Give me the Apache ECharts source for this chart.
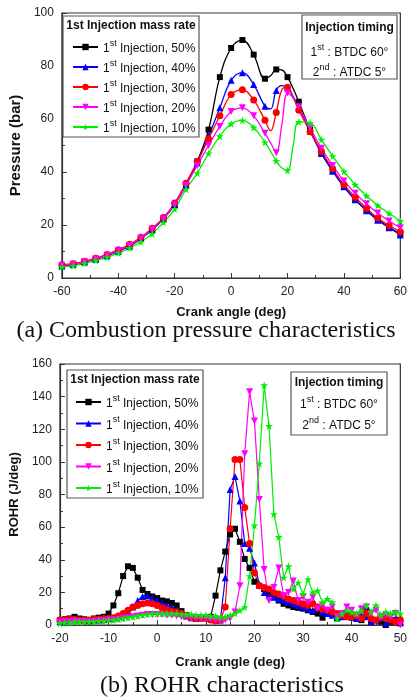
<!DOCTYPE html>
<html>
<head>
<meta charset="utf-8">
<script src="https://cdn.jsdelivr.net/npm/echarts@6/dist/echarts.min.js"></script>
<style>
html, body { margin: 0; padding: 0; background: #fff; }
#main { width: 410px; height: 697px; }
</style>
</head>
<body>
<div id="main"></div>
<script>
var seriesNames = ['1st Injection, 50%', '1st Injection, 40%', '1st Injection, 30%', '1st Injection, 20%', '1st Injection, 10%'];
var colors = ['#000000', '#0000ff', '#ff0000', '#ff00ff', '#00ee00'];

// (a) combustion pressure, bar
var pressureAngle = [-60, -56, -52, -48, -44, -40, -36, -32, -28, -24, -20, -16, -12, -8, -4, 0, 4, 8, 12, 14, 16, 18, 20, 22, 24, 28, 32, 36, 40, 44, 48, 52, 56, 60];
var pressure50 = [4.6, 5.2, 6.1, 7.2, 8.5, 10.3, 12.2, 14.9, 18.3, 22.4, 27.8, 35.3, 44, 56, 75.8, 86.8, 89.8, 84.3, 75.2, 76.3, 78.7, 78.5, 75.8, 71.5, 66.5, 56, 47.2, 40.5, 34.5, 29.6, 25.6, 22, 19.2, 16.5];
var pressure40 = [4.5, 5.1, 6, 7.1, 8.4, 10.1, 12, 14.8, 18.2, 22.3, 27.7, 35, 43.5, 53.5, 64.2, 74.6, 77.5, 73, 64.8, 63.8, 70.8, 72.6, 71.8, 68.5, 64.5, 55.5, 47, 40.3, 34.4, 29.5, 25.4, 21.8, 19, 16.2];
var pressure30 = [5, 5.4, 6.3, 7.5, 8.9, 10.7, 12.7, 15.4, 18.8, 22.8, 28.3, 35.8, 44, 52.5, 61.2, 69.2, 71, 67.2, 59.5, 55.5, 62.5, 71, 72, 68, 63.3, 55.2, 47.8, 41.2, 35.2, 30.5, 26.3, 22.6, 19.8, 17.5];
var pressure20 = [4.8, 5.2, 6.1, 7.3, 8.6, 10.4, 12.3, 15, 18.4, 22.4, 27.7, 35, 42.5, 50, 57.2, 62.8, 64.2, 61.2, 54.6, 51, 47.3, 58, 69.8, 68, 64.6, 56.6, 49, 42.5, 36.6, 32, 28, 24.5, 21.5, 19];
var pressure10 = [4.2, 4.6, 5.5, 6.6, 7.8, 9.4, 11.3, 13.6, 16.7, 21, 26, 33.5, 39.6, 47, 53.5, 58.2, 59.5, 56.8, 51.2, 47.8, 44.2, 41.5, 40.6, 50, 58.9, 58.5, 52.2, 46, 40.2, 35.2, 31, 27.4, 24.4, 21.5];

// (b) rate of heat release, J/deg
var rohrAngle = [-20, -19, -18, -17, -16, -15, -14, -13, -12, -11, -10, -9, -8, -7, -6, -5, -4, -3, -2, -1, 0, 1, 2, 3, 4, 5, 6, 7, 8, 9, 10, 11, 12, 13, 14, 15, 16, 17, 18, 19, 20, 21, 22, 23, 24, 25, 26, 27, 28, 29, 30, 31, 32, 33, 34, 35, 36, 37, 38, 39, 40, 41, 42, 43, 44, 45, 46, 47, 48, 49, 50];
var rohr50 = [3, 3.5, 4, 5, 4, 3.5, 3, 4, 4.5, 5, 7, 12, 19.5, 30, 36, 35, 29, 21.5, 19, 17.5, 16.5, 15, 14.5, 13.5, 12, 8.5, 6, 5, 4.5, 4.5, 4.5, 5, 18, 33.5, 45, 55.5, 59, 51, 40.5, 35, 26.5, 24, 22, 19, 17, 15, 13, 12, 11, 10.5, 10, 9, 8, 7, 4.5, 8, 7, 4, 5, 6, 4.5, 4, 3, 9, 2, 3, 2, 0, 2, 3, 1];
var rohr40 = [2, 2.5, 3, 3.5, 3, 3, 2.5, 3, 3, 3.5, 4, 4.5, 5, 6, 8, 11, 15, 17.5, 18, 16.5, 15, 13.5, 12, 11, 9.5, 7.5, 5.5, 4.5, 4, 4.5, 5, 4, 3, 3, 29, 83, 91, 76, 50, 47, 38, 25, 20, 18, 17, 16, 15, 14, 13, 12, 11, 10, 9, 11, 8, 7, 6, 5, 5, 6, 5, 4, 6, 5, 2, 3, 5, 1, 3, 4, 2];
var rohr30 = [3, 3, 3.5, 3.5, 3, 3, 3, 3.5, 3.5, 4, 4, 4.5, 5.5, 7, 9, 11, 12, 13, 13.5, 13, 12, 10.5, 9.5, 8.5, 8, 7, 5.5, 4.5, 4, 4, 4, 3, 2.5, 3, 11, 59, 101.5, 101.5, 72, 50, 32, 24, 23, 22, 20, 19, 18, 16, 15, 14, 13, 12, 13, 11, 10, 9, 8, 7, 6, 5, 5, 6, 4, 7, 4, 3, 5, 4, 3, 2, 3];
var rohr20 = [1.5, 2, 2, 2.5, 2, 2, 2, 2, 2.5, 2.5, 3, 3, 3.5, 4, 4.5, 5, 5.5, 6, 6.5, 6.5, 6.5, 6.5, 6, 6, 5.5, 5, 5, 4.5, 4.5, 4, 4, 3.5, 3, 2.5, 3, 4, 8, 24, 105, 143, 125, 77, 34, 15, 23, 35, 18, 20, 27, 15, 17, 14, 17, 10, 12, 9, 11, 5, 7, 11, 9, 6, 10, 11, 7, 9, 4, 6, 5, 7, 0];
var rohr10 = [1, 1.5, 1.5, 2, 2, 2, 2, 2, 2.5, 2.5, 3, 3, 3.5, 4, 4.5, 5, 5.5, 6, 6.5, 7, 7, 7, 7, 7, 7, 6.5, 6.5, 6.5, 6, 6, 6, 5.5, 5.5, 5, 5, 6, 7, 9, 11, 30, 61, 99, 147, 122, 68, 54, 29, 36, 22, 26, 19, 28, 20, 21, 14, 16, 14, 4, 7, 9, 8, 7, 9, 12, 8, 12, 6, 8, 7, 8, 7];

var pressureSets = [pressure50, pressure40, pressure30, pressure20, pressure10];
var rohrSets = [rohr50, rohr40, rohr30, rohr20, rohr10];

var symbols = [
    'rect',
    'triangle',
    'circle',
    'path://M0,0 L10,0 L5,9 Z',
    'path://M50,0 L61,35 L98,35 L68,57 L79,91 L50,70 L21,91 L32,57 L2,35 L39,35 Z'
];
var symbolSizes = [6, 7, 7, 7, 8];

var supRich = {
    sup: { fontSize: 9, lineHeight: 10, verticalAlign: 'top', color: '#111', fontFamily: 'Liberation Sans' },
    n: { fontSize: 12, lineHeight: 16, verticalAlign: 'bottom', color: '#111', fontFamily: 'Liberation Sans' }
};

function supText(s) {
    return s.replace(/^(\d)(st|nd)(.*)$/, '{n|$1}{sup|$2}{n|$3}');
}

var series = [];
seriesNames.forEach(function (name, i) {
    series.push({
        name: name,
        type: 'line',
        xAxisIndex: 0,
        yAxisIndex: 0,
        smooth: 0.4,
        symbol: symbols[i],
        symbolSize: symbolSizes[i],
        color: colors[i],
        lineStyle: { width: 1.3 },
        data: pressureAngle.map(function (a, j) {
            var item = { value: [a, pressureSets[i][j]] };
            if (a % 4 !== 0) item.symbol = 'none';
            return item;
        })
    });
    series.push({
        name: name,
        type: 'line',
        xAxisIndex: 1,
        yAxisIndex: 1,
        symbol: symbols[i],
        symbolSize: symbolSizes[i],
        color: colors[i],
        lineStyle: { width: 1.2 },
        data: rohrAngle.map(function (a, j) { return [a, rohrSets[i][j]]; })
    });
});

var axisLabel = { fontSize: 12, color: '#222', fontFamily: 'Liberation Sans' };
var axisLine = { show: true, onZero: false, lineStyle: { color: '#333', width: 1.2 } };
var tick = { show: true, inside: true, length: 5, lineStyle: { color: '#333' } };
var minor = { show: true, splitNumber: 2, length: 3, lineStyle: { color: '#333' } };
var nameStyle = { fontSize: 13, fontWeight: 'bold', color: '#111', fontFamily: 'Liberation Sans' };

function boxText(x, y, text, bold) {
    return {
        type: 'text', x: x, y: y, z: 20,
        style: {
            text: bold ? text : supText(text),
            rich: supRich,
            fill: '#111',
            font: (bold ? 'bold ' : '') + '12px "Liberation Sans"',
            align: 'center', verticalAlign: 'middle'
        }
    };
}

function legendBox(x, y, w, h) {
    return {
        type: 'rect', shape: { x: x, y: y, width: w, height: h },
        style: { fill: '#fff', stroke: '#555', lineWidth: 1.2 }, z: 5
    };
}

var myChart = echarts.init(document.getElementById('main'));
myChart.setOption({
    animation: false,
    backgroundColor: '#fff',
    grid: [
        { left: 55, top: 13, width: 351, height: 265, show: true, borderColor: '#333', borderWidth: 1.2 },
        { left: 52, top: 364, width: 351, height: 261, show: true, borderColor: '#333', borderWidth: 1.2 }
    ],
    xAxis: [
        {
            gridIndex: 0, type: 'value', min: -60, max: 60, interval: 20,
            name: 'Crank angle (deg)', nameLocation: 'middle', nameGap: 28, nameTextStyle: nameStyle,
            axisLine: axisLine, axisTick: tick, minorTick: minor, splitLine: { show: false },
            axisLabel: axisLabel
        },
        {
            gridIndex: 1, type: 'value', min: -20, max: 50, interval: 10,
            name: 'Crank angle (deg)', nameLocation: 'middle', nameGap: 31, nameTextStyle: nameStyle,
            axisLine: axisLine, axisTick: tick, minorTick: minor, splitLine: { show: false },
            axisLabel: axisLabel
        }
    ],
    yAxis: [
        {
            gridIndex: 0, type: 'value', min: 0, max: 100, interval: 20,
            name: 'Pressure (bar)', nameLocation: 'middle', nameGap: 36,
            nameTextStyle: Object.assign({}, nameStyle, { fontSize: 15 }),
            axisLine: axisLine, axisTick: tick, minorTick: minor, splitLine: { show: false },
            axisLabel: axisLabel
        },
        {
            gridIndex: 1, type: 'value', min: 0, max: 160, interval: 20,
            name: 'ROHR (J/deg)', nameLocation: 'middle', nameGap: 34, nameTextStyle: nameStyle,
            axisLine: axisLine, axisTick: tick, minorTick: minor, splitLine: { show: false },
            axisLabel: axisLabel
        }
    ],
    legend: [
        {
            left: 63, top: 39, orient: 'vertical', itemWidth: 25, itemHeight: 8, itemGap: 4,
            padding: [0, 0, 0, 9], z: 10,
            formatter: supText, textStyle: { rich: supRich, fontSize: 12 },
            data: seriesNames
        },
        {
            left: 67, top: 394, orient: 'vertical', itemWidth: 25, itemHeight: 8, itemGap: 5.5,
            padding: [0, 0, 0, 8], z: 10,
            formatter: supText, textStyle: { rich: supRich, fontSize: 12 },
            data: seriesNames
        }
    ],
    graphic: [
        legendBox(63, 16, 136, 121),
        boxText(131, 26, '1st Injection mass rate', true),
        legendBox(302, 15, 95, 64),
        boxText(349.5, 28, 'Injection timing', true),
        boxText(349.5, 51, '1st : BTDC 60°', false),
        boxText(349.5, 71, '2nd : ATDC 5°', false),
        legendBox(67, 370, 136, 128),
        boxText(135, 380, '1st Injection mass rate', true),
        legendBox(291, 372, 96, 63),
        boxText(339, 383, 'Injection timing', true),
        boxText(339, 403, '1st : BTDC 60°', false),
        boxText(339, 424, '2nd : ATDC 5°', false),
        {
            type: 'text', x: 206, y: 331,
            style: { text: '(a) Combustion pressure characteristics', font: '24px "Liberation Serif"', fill: '#111', align: 'center', verticalAlign: 'middle' }
        },
        {
            type: 'text', x: 222, y: 686,
            style: { text: '(b) ROHR characteristics', font: '24px "Liberation Serif"', fill: '#111', align: 'center', verticalAlign: 'middle' }
        }
    ],
    series: series
});
</script>
</body>
</html>
